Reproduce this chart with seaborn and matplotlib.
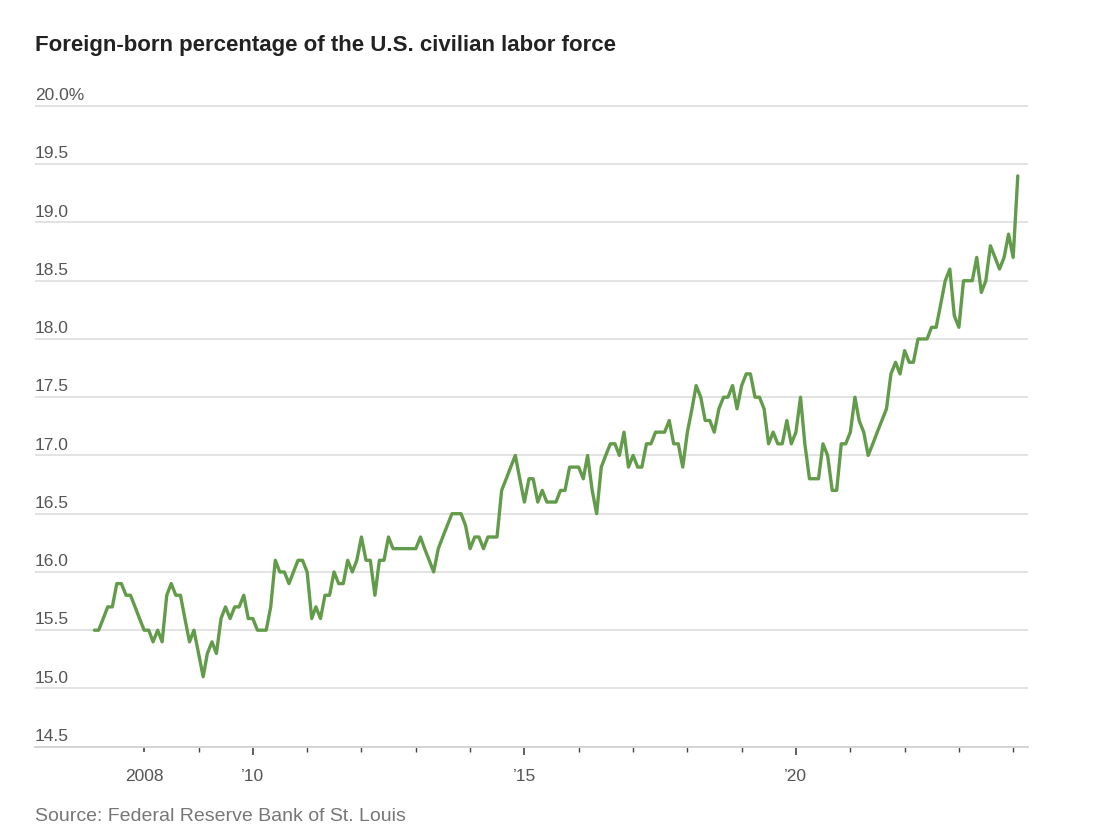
import pandas as pd
import seaborn as sns
import matplotlib.pyplot as plt
import matplotlib.dates as mdates
import matplotlib.ticker as mticker

sns.set_theme(style="white")
plt.rcParams["font.family"] = ["Liberation Sans", "DejaVu Sans"]

# monthly values, Feb 2007 - Feb 2024
months = pd.date_range("2007-02-01", periods=205, freq="MS")
share = [
    15.5, 15.5, 15.6, 15.7, 15.7, 15.9, 15.9, 15.8, 15.8, 15.7, 15.6, 15.5,
    15.5, 15.4, 15.5, 15.4, 15.8, 15.9, 15.8, 15.8, 15.6, 15.4, 15.5, 15.3,
    15.1, 15.3, 15.4, 15.3, 15.6, 15.7, 15.6, 15.7, 15.7, 15.8, 15.6, 15.6,
    15.5, 15.5, 15.5, 15.7, 16.1, 16.0, 16.0, 15.9, 16.0, 16.1, 16.1, 16.0,
    15.6, 15.7, 15.6, 15.8, 15.8, 16.0, 15.9, 15.9, 16.1, 16.0, 16.1, 16.3,
    16.1, 16.1, 15.8, 16.1, 16.1, 16.3, 16.2, 16.2, 16.2, 16.2, 16.2, 16.2,
    16.3, 16.2, 16.1, 16.0, 16.2, 16.3, 16.4, 16.5, 16.5, 16.5, 16.4, 16.2,
    16.3, 16.3, 16.2, 16.3, 16.3, 16.3, 16.7, 16.8, 16.9, 17.0, 16.8, 16.6,
    16.8, 16.8, 16.6, 16.7, 16.6, 16.6, 16.6, 16.7, 16.7, 16.9, 16.9, 16.9,
    16.8, 17.0, 16.7, 16.5, 16.9, 17.0, 17.1, 17.1, 17.0, 17.2, 16.9, 17.0,
    16.9, 16.9, 17.1, 17.1, 17.2, 17.2, 17.2, 17.3, 17.1, 17.1, 16.9, 17.2,
    17.4, 17.6, 17.5, 17.3, 17.3, 17.2, 17.4, 17.5, 17.5, 17.6, 17.4, 17.6,
    17.7, 17.7, 17.5, 17.5, 17.4, 17.1, 17.2, 17.1, 17.1, 17.3, 17.1, 17.2,
    17.5, 17.1, 16.8, 16.8, 16.8, 17.1, 17.0, 16.7, 16.7, 17.1, 17.1, 17.2,
    17.5, 17.3, 17.2, 17.0, 17.1, 17.2, 17.3, 17.4, 17.7, 17.8, 17.7, 17.9,
    17.8, 17.8, 18.0, 18.0, 18.0, 18.1, 18.1, 18.3, 18.5, 18.6, 18.2, 18.1,
    18.5, 18.5, 18.5, 18.7, 18.4, 18.5, 18.8, 18.7, 18.6, 18.7, 18.9, 18.7,
    19.4,
]

y_ticks = [14.5, 15.0, 15.5, 16.0, 16.5, 17.0, 17.5, 18.0, 18.5, 19.0, 19.5, 20.0]
y_labels = ["14.5", "15.0", "15.5", "16.0", "16.5", "17.0", "17.5",
            "18.0", "18.5", "19.0", "19.5", "20.0%"]
tick_years = list(range(2008, 2025))
x_label_years = [2008, 2010, 2015, 2020]
x_labels = ["2008", "\u201910", "\u201915", "\u201920"]

df = pd.DataFrame({"month": months, "share": share})

fig = plt.figure(figsize=(11.04, 8.34), dpi=100)
ax = fig.add_axes([0.0317, 0.1047, 0.8995, 0.7752])

sns.lineplot(data=df, x="month", y="share", ax=ax, color="#629b4a", linewidth=2.4)

ax.set_xlim(pd.Timestamp("2005-12-28"), pd.Timestamp("2024-04-10"))
ax.set_ylim(14.5, 20.05)

# y grid, labels sit just above the lines
ax.set_yticks(y_ticks)
ax.set_yticklabels([])
ax.tick_params(axis="y", length=0)
ax.grid(axis="y", color="#e3e3e3", linewidth=1.4)
ax.grid(axis="x", visible=False)
for v, lab in zip(y_ticks, y_labels):
    ax.annotate(lab, xy=(0, v), xycoords=("axes fraction", "data"),
                xytext=(0, 2), textcoords="offset points",
                ha="left", va="bottom", fontsize=12.5, color="#555555")

# x axis: small tick every year, longer ones under the labels
year_starts = [mdates.date2num(pd.Timestamp(f"{y}-01-01")) for y in tick_years]
ax.xaxis.set_minor_locator(mticker.FixedLocator(year_starts))
ax.set_xticks([pd.Timestamp(f"{y}-01-01") for y in x_label_years])
ax.set_xticklabels(x_labels)
ax.tick_params(axis="x", which="major", length=6, width=1.2, color="#444444",
               labelsize=12.5, labelcolor="#555555", pad=10, bottom=True)
ax.tick_params(axis="x", which="minor", length=3.5, width=1.0, color="#444444",
               bottom=True)
ax.xaxis.get_major_ticks()[0].tick1line.set_markersize(3.5)  # 2008 tick is short

for side in ["top", "right", "left"]:
    ax.spines[side].set_visible(False)
ax.spines["bottom"].set_color("#d4d4d4")
ax.spines["bottom"].set_linewidth(1.4)

ax.set_xlabel("")
ax.set_ylabel("")

fig.text(0.0317, 0.945, "Foreign-born percentage of the U.S. civilian labor force",
         fontsize=16, fontweight="bold", color="#222222", ha="left", va="center")
fig.text(0.0317, 0.021, "Source: Federal Reserve Bank of St. Louis",
         fontsize=14, color="#777777", ha="left", va="center")

fig.savefig("out.png", dpi=100)
